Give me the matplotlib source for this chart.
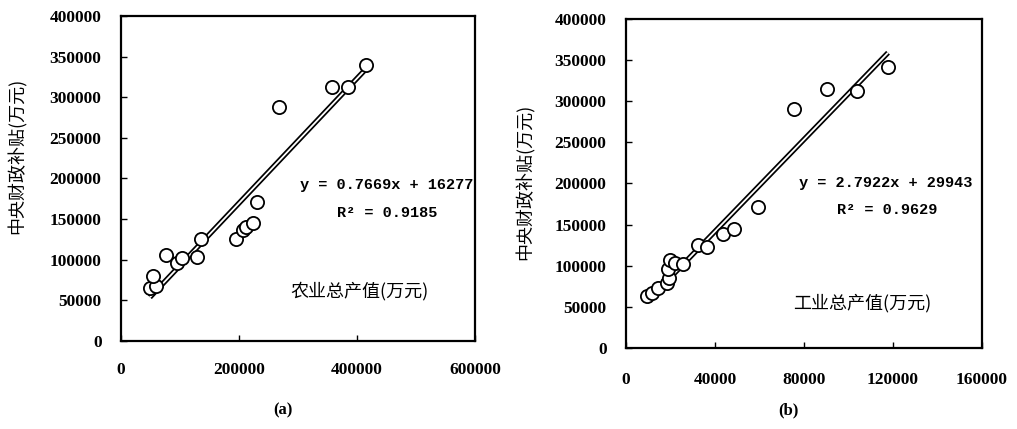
import numpy as np
import matplotlib.pyplot as plt

# Panel (a): agricultural output vs central subsidy (10k yuan)
agri_x = [49000, 60000, 54000, 76000, 95000, 103000, 128000, 136000,
          195000, 207000, 212000, 224000, 230000, 268000, 358000, 385000, 415000]
agri_y = [65000, 68000, 80000, 106000, 96000, 102000, 103000, 125000,
          125000, 137000, 140000, 145000, 171000, 288000, 313000, 312000, 340000]
agri_fit = (0.7669, 16277)
agri_eq = 'y = 0.7669x + 16277'
agri_r2 = 'R² = 0.9185'

# Panel (b): industrial output vs central subsidy
ind_x = [9300, 11500, 14500, 18300, 19400, 19000, 19800, 22000, 25700,
         32500, 36300, 43600, 48500, 59300, 75600, 90400, 103800, 117800]
ind_y = [63000, 67000, 73000, 79000, 85000, 96000, 107000, 103000, 102000,
         125000, 123000, 138000, 145000, 171000, 290000, 315000, 312000, 341000]
ind_fit = (2.7922, 29943)
ind_eq = 'y = 2.7922x + 29943'
ind_r2 = 'R² = 0.9629'

ylabel = '中央财政补贴(万元)'
cjk = ['Noto Sans CJK SC', 'DejaVu Sans']
tickfont = dict(family='Liberation Serif', weight='bold', size=12.5)
eqfont = dict(family='Liberation Mono', weight='bold', size=11)

DPI = 100
fig = plt.figure(figsize=(1017/DPI, 429/DPI), dpi=DPI)

panels = [
    dict(rect=[0.119, 0.205, 0.348, 0.758], x=agri_x, y=agri_y, fit=agri_fit,
         eq=agri_eq, r2=agri_r2, xlim=600000, xticks=[0, 200000, 400000, 600000],
         eqpos=(303000, 192000), r2pos=(366000, 157500),
         xlab='农业总产值(万元)', xlabpos=(405000, 62000),
         cap='(a)', cappos=(283, 410), ylabpos=(17, 156), xpad=15),
    dict(rect=[0.6155, 0.189, 0.350, 0.767], x=ind_x, y=ind_y, fit=ind_fit,
         eq=ind_eq, r2=ind_r2, xlim=160000, xticks=[0, 40000, 80000, 120000, 160000],
         eqpos=(77750, 200600), r2pos=(94800, 167800),
         xlab='工业总产值(万元)', xlabpos=(106000, 54700),
         cap='(b)', cappos=(788, 410), ylabpos=(525, 182), xpad=17),
]

for p in panels:
    ax = fig.add_axes(p['rect'])
    x = np.array(p['x'])
    y = np.array(p['y'])
    a, b = p['fit']
    xx = np.array([x.min(), x.max()])
    # double-stroke trend line (black outline, white core)
    ax.plot(xx, a*xx + b, color='black', lw=3.8, zorder=2, solid_capstyle='butt')
    ax.plot(xx, a*xx + b, color='white', lw=1.3, zorder=3, solid_capstyle='butt')
    ax.plot(x, y, 'o', ms=9.5, mfc='white', mec='black', mew=1.3, zorder=4)

    ax.set_xlim(0, p['xlim'])
    ax.set_ylim(0, 400000)
    ax.set_xticks(p['xticks'])
    ax.set_yticks(range(0, 400001, 50000))
    ax.set_xticklabels([str(t) for t in p['xticks']], fontdict=tickfont)
    ax.set_yticklabels([str(t) for t in range(0, 400001, 50000)], fontdict=tickfont)
    ax.tick_params(axis='both', direction='in', length=4, width=1)
    ax.tick_params(axis='x', pad=p['xpad'])
    ax.tick_params(axis='y', pad=14)
    for s in ax.spines.values():
        s.set_linewidth(1.6)

    ax.text(*p['eqpos'], p['eq'], ha='left', va='center', **eqfont)
    ax.text(*p['r2pos'], p['r2'], ha='left', va='center', **eqfont)
    ax.text(*p['xlabpos'], p['xlab'], ha='center', va='center', family=cjk, size=13)

    fig.text(p['ylabpos'][0]/1017, 1 - p['ylabpos'][1]/429, ylabel, rotation=90,
             ha='center', va='center', family=cjk, size=13)
    fig.text(p['cappos'][0]/1017, 1 - p['cappos'][1]/429, p['cap'],
             ha='center', va='center', family='Liberation Serif', weight='bold', size=12)

plt.savefig('out.png', dpi=DPI)
